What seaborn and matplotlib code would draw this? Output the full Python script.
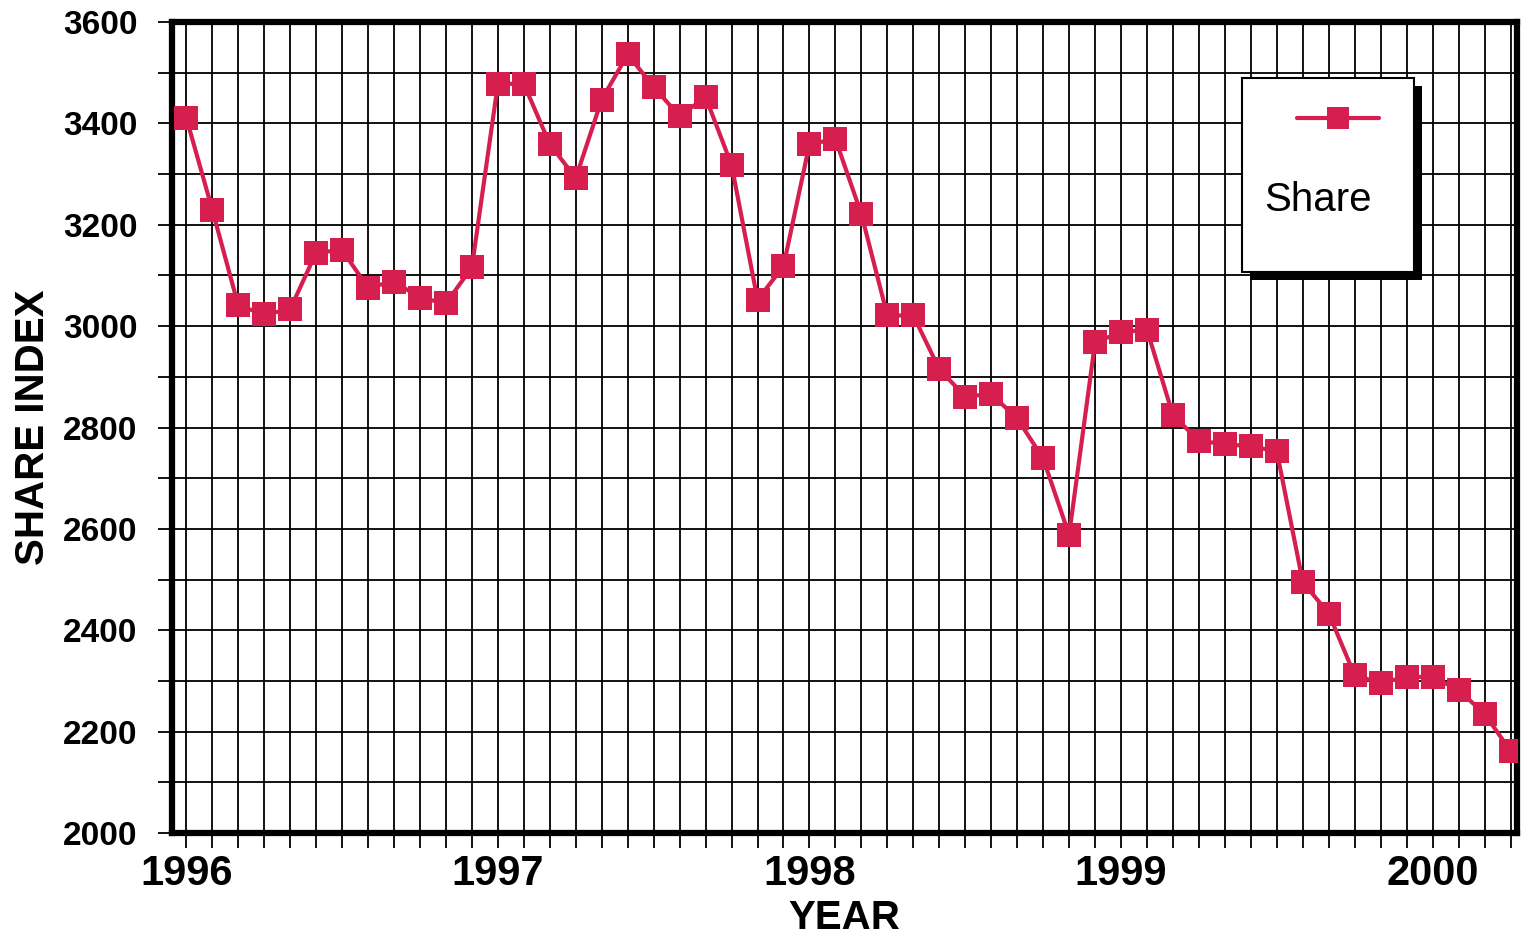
import numpy as np
import pandas as pd
import matplotlib
matplotlib.use("Agg")
import matplotlib.pyplot as plt
from matplotlib.lines import Line2D
from matplotlib.patches import Rectangle
import seaborn as sns

# ---- data (monthly share index, Jan 1996 - Apr 2000) ----
share_1996 = [3411, 3230, 3041, 3023, 3033, 3145, 3150, 3076, 3088, 3056, 3045, 3116]
share_1997 = [3478, 3478, 3359, 3292, 3447, 3536, 3472, 3414, 3452, 3318, 3052, 3118]
share_1998 = [3359, 3369, 3221, 3021, 3021, 2915, 2861, 2866, 2818, 2739, 2588, 2968]
share_1999 = [2988, 2993, 2824, 2774, 2767, 2763, 2753, 2495, 2433, 2311, 2296, 2308]
share_2000 = [2308, 2282, 2235, 2162]

year_labels = ["1996", "1997", "1998", "1999", "2000"]
y_tick_values = list(range(2000, 3601, 100))
y_tick_labels = [str(v) if v % 200 == 0 else "" for v in y_tick_values]
series_name = "Share"

values = share_1996 + share_1997 + share_1998 + share_1999 + share_2000
dates = pd.date_range("1996-01-01", periods=len(values), freq="MS")
t = dates.year + (dates.month - 1) / 12.0
df = pd.DataFrame({"t": t, "share": values})

sns.set_style("white")
plt.rcParams["font.family"] = ["Liberation Sans", "DejaVu Sans"]
plt.rcParams["text.color"] = "black"
plt.rcParams["axes.labelcolor"] = "black"
plt.rcParams["xtick.color"] = "black"
plt.rcParams["ytick.color"] = "black"

color = "#D61E4F"

fig = plt.figure(figsize=(15.21, 9.40), dpi=100)
ax = fig.add_axes([172 / 1521, 1 - 833 / 940, (1517 - 172) / 1521, (833 - 22) / 940])

sns.lineplot(data=df, x="t", y="share", ax=ax, color=color, linewidth=3.0,
             marker="s", markersize=17, markeredgewidth=0, zorder=3)

ax.set_xlim(1996 - 0.55 / 12, 1996 + 51.25 / 12)
ax.set_ylim(2000, 3600)

month_ticks = [1996 + i / 12 for i in range(0, 52)]
ax.set_xticks(month_ticks)
xlabels = []
for i in range(52):
    xlabels.append(year_labels[i // 12] if i % 12 == 0 else "")
ax.set_xticklabels(xlabels, fontsize=30, fontweight="bold", color="black")
ax.set_yticks(y_tick_values)
ax.set_yticklabels(y_tick_labels, fontsize=24, fontweight="bold", color="black")

ax.grid(True, which="major", color="black", linewidth=1.3)
ax.set_axisbelow(True)
ax.tick_params(axis="x", direction="out", length=11, width=1.3, color="black",
               pad=4, bottom=True)
ax.tick_params(axis="y", direction="out", length=10, width=1.3, color="black",
               pad=15, left=True)
for s in ax.spines.values():
    s.set_linewidth(4.5)
    s.set_color("black")

ax.set_xlabel("YEAR", fontsize=29, fontweight="bold", labelpad=4, color="black")
ax.set_ylabel("SHARE INDEX", fontsize=29, fontweight="bold", labelpad=8, color="black")

# ---- legend box (handle above label) ----
W, H = 1521, 940
def fx(px):
    return px / W
def fy(py):
    return 1 - py / H

shadow = Rectangle((fx(1250), fy(280)), fx(1422) - fx(1250), fy(86) - fy(280),
                   transform=fig.transFigure, facecolor="black", edgecolor="none",
                   zorder=10)
box = Rectangle((fx(1242), fy(272)), fx(1414) - fx(1242), fy(78) - fy(272),
                transform=fig.transFigure, facecolor="white", edgecolor="black",
                linewidth=1.5, zorder=11)
fig.add_artist(shadow)
fig.add_artist(box)
handle = Line2D([fx(1297), fx(1379)], [fy(118), fy(118)], transform=fig.transFigure,
                color=color, linewidth=3.0, zorder=12)
fig.add_artist(handle)
hmark = Line2D([fx(1338)], [fy(118)], transform=fig.transFigure, color=color,
               marker="s", markersize=16, markeredgewidth=0, linestyle="none", zorder=13)
fig.add_artist(hmark)
fig.text(fx(1318), fy(200), series_name, fontsize=29, ha="center", va="center",
         color="black", zorder=14)

fig.savefig("out.png", dpi=100, facecolor="white")
